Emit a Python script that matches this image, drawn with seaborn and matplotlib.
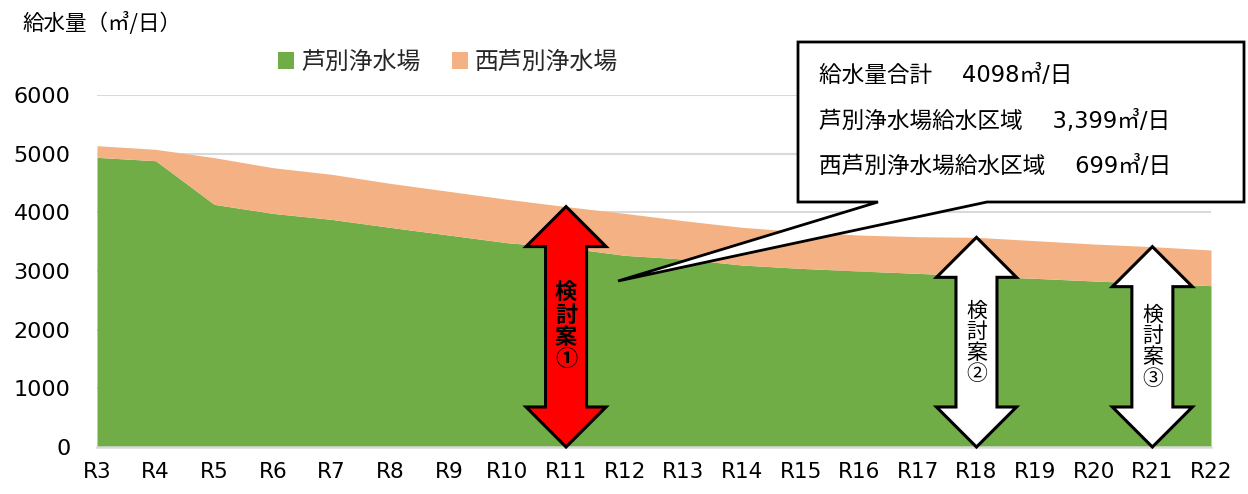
import numpy as np
import pandas as pd
import seaborn as sns
import matplotlib
matplotlib.use("Agg")
import matplotlib.pyplot as plt
from matplotlib.patches import Patch, Polygon

# ---------------- data ----------------
categories = ["R3", "R4", "R5", "R6", "R7", "R8", "R9", "R10", "R11", "R12",
              "R13", "R14", "R15", "R16", "R17", "R18", "R19", "R20", "R21", "R22"]
ashibetsu = [4937, 4880, 4136, 3982, 3880, 3744, 3613, 3482, 3399, 3267,
             3204, 3102, 3045, 3000, 2960, 2915, 2875, 2830, 2790, 2750]
nishi_ashibetsu = [199, 194, 796, 779, 768, 750, 745, 740, 699, 715,
                   654, 643, 625, 613, 625, 659, 642, 630, 625, 608]
series_names = ["芦別浄水場", "西芦別浄水場"]
y_ticks = [0, 1000, 2000, 3000, 4000, 5000, 6000]
y_label = "給水量（㎥/日）"
callout_lines = ["給水量合計　 4098㎥/日",
                 "芦別浄水場給水区域　 3,399㎥/日",
                 "西芦別浄水場給水区域　 699㎥/日"]
plans = [("R11", "検\n討\n案\n①", "#FF0000", "bold"),
         ("R18", "検\n討\n案\n②", "#FFFFFF", "normal"),
         ("R21", "検\n討\n案\n③", "#FFFFFF", "normal")]

df = pd.DataFrame({"cat": categories, "a": ashibetsu, "b": nishi_ashibetsu})
df["x"] = np.arange(len(df))
df["total"] = df["a"] + df["b"]

# ---------------- style ----------------
sns.set_theme(style="white")
CJK = ["Noto Sans CJK JP", "DejaVu Sans"]
plt.rcParams["font.family"] = CJK

GREEN = "#70AD47"
ORANGE = "#F4B183"
GRID = "#D9D9D9"

W, H = 1248, 494
fig = plt.figure(figsize=(W / 100, H / 100), dpi=100)
ax = fig.add_axes([97 / W, 47 / H, 1114 / W, 352 / H])

ax.stackplot(df["x"], df["a"], df["b"], colors=[GREEN, ORANGE], linewidth=0, zorder=2)
sns.lineplot(x=df["x"], y=df["total"], ax=ax, color=ORANGE, linewidth=0, legend=False)

ax.set_xlim(0, len(categories) - 1)
ax.set_ylim(0, 6000)
ax.set_xticks(df["x"])
ax.set_xticklabels(categories, family="DejaVu Sans", fontsize=15.5, color="#000000")
ax.set_yticks(y_ticks)
ax.set_yticklabels([str(v) for v in y_ticks], family="DejaVu Sans", fontsize=16, color="#000000")
ax.set_xlabel("")
ax.set_ylabel("")
ax.set_axisbelow(True)
ax.yaxis.grid(True, color=GRID, linewidth=1.5, zorder=0)
ax.xaxis.grid(False)
for s in ["top", "right", "left"]:
    ax.spines[s].set_visible(False)
ax.spines["bottom"].set_color(GRID)
ax.spines["bottom"].set_linewidth(1.8)
ax.spines["bottom"].set_zorder(3)
ax.tick_params(axis="x", direction="out", length=6, width=1.5, color=GRID, pad=5)
ax.tick_params(axis="y", length=0, pad=19)

# ---------------- legend & titles ----------------
handles = [Patch(facecolor=GREEN, edgecolor="none"), Patch(facecolor=ORANGE, edgecolor="none")]
fig.legend(handles, series_names, loc="center", bbox_to_anchor=(448 / W, 1 - 62 / H),
           ncol=2, frameon=False, fontsize=17.2, handlelength=0.68, handleheight=0.72,
           handletextpad=0.3, columnspacing=1.3, borderpad=0)
fig.text(22 / W, 1 - 23 / H, y_label, fontsize=15.5, ha="left", va="center", color="#000000")

# ---------------- double arrows ----------------
px_per_x = 1114 / (len(categories) - 1)
px_per_y = 352 / 6000
shaft = 20.5 / px_per_x
head = 40 / px_per_x
head_len = 40 / px_per_y
for cat, label, fc, weight in plans:
    row = df[df["cat"] == cat].iloc[0]
    cx, top = row["x"], row["total"]
    verts = [(cx, top), (cx + head, top - head_len), (cx + shaft, top - head_len),
             (cx + shaft, head_len), (cx + head, head_len), (cx, 0),
             (cx - head, head_len), (cx - shaft, head_len), (cx - shaft, top - head_len),
             (cx - head, top - head_len)]
    ax.add_patch(Polygon(verts, closed=True, facecolor=fc, edgecolor="black",
                         linewidth=2.2, joinstyle="miter", zorder=5, clip_on=False))
    ax.text(cx, top / 2, label, ha="center", va="center", fontsize=16 if weight == "bold" else 15,
            fontweight=weight, linespacing=0.95, color="black", zorder=6)

# ---------------- callout ----------------
def f(x, y):
    return (x / W, 1 - y / H)

bubble = [f(798, 42), f(1244, 42), f(1244, 202), f(987, 202), f(618, 281),
          f(878, 202), f(798, 202)]
fig.add_artist(Polygon(bubble, closed=True, facecolor="white", edgecolor="black",
                       linewidth=2.0, joinstyle="miter", transform=fig.transFigure, zorder=10))
for yy, line in zip([75, 121, 166], callout_lines):
    fig.text(819 / W, 1 - yy / H, line, fontsize=16.3, ha="left", va="center",
             family=["DejaVu Sans", "Noto Sans CJK JP"], color="#000000", zorder=11)

fig.savefig("out.png", dpi=100)
